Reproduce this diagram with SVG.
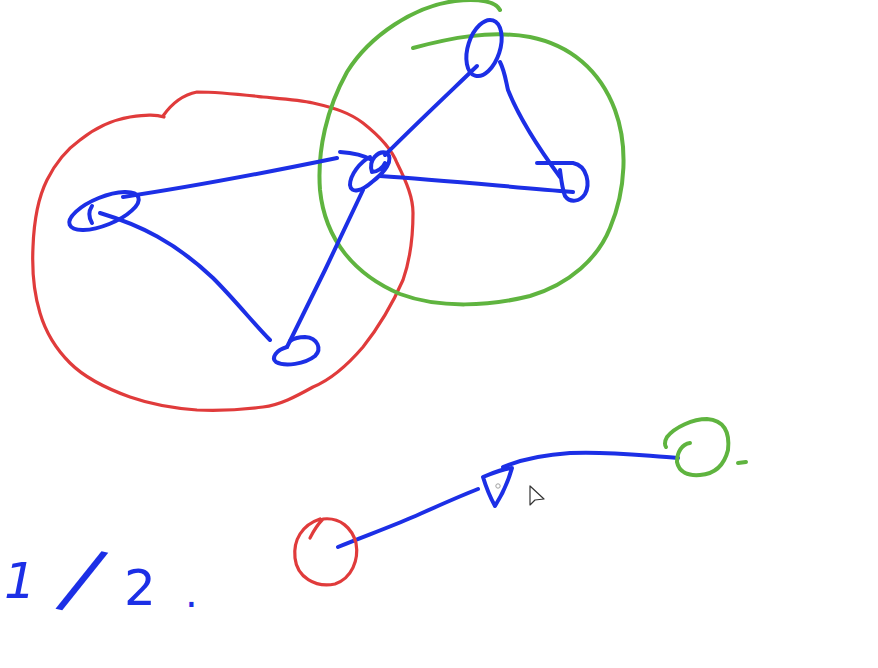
<svg xmlns="http://www.w3.org/2000/svg" width="878" height="668" viewBox="0 0 878 668">
<style>
.b{fill:none;stroke:#1c2fe6;stroke-width:4;stroke-linecap:round;stroke-linejoin:round}
.r{fill:none;stroke:#e03b3b;stroke-width:3.2;stroke-linecap:round;stroke-linejoin:round}
.g{fill:none;stroke:#5fb43f;stroke-width:4;stroke-linecap:round;stroke-linejoin:round}
.t{fill:#1c2fe6;font-family:"DejaVu Sans",sans-serif}
</style>
<rect width="878" height="668" fill="#ffffff"/>
<g id="red-group">
<path class="r" d="M163,116 C172,103 182,95 197,92 C220,92 245,95 263,97 C285,99 300,100 313,103 C335,108 350,113 363,123 C382,138 392,150 397,163 C407,183 413,198 413,213 C413,240 410,260 403,280 C392,305 378,328 363,347 C345,368 330,380 313,387 C295,397 280,405 263,407 C240,410 220,411 197,410 C170,408 150,404 130,397 C105,388 85,378 70,363 C55,348 45,330 40,313 C33,290 32,268 33,247 C34,220 38,198 47,180 C56,162 66,150 80,140 C95,128 112,120 130,117 C145,115 155,114 164,117"/>
</g>
<g id="green-group">
<path class="g" d="M500,10 C496,2 480,-2 455,1 C415,6 370,35 347,72 C327,108 317,150 320,190 C325,240 355,275 400,294 C440,309 490,306 530,296 C570,284 598,258 610,228 C626,190 628,145 615,110 C600,70 570,45 530,37 C490,30 450,38 413,48"/>
</g>
<g id="connectors">
<path class="b" d="M123,197 C170,190 230,180 337,158"/>
<path class="b" d="M100,213 C140,225 175,242 213,278 C235,300 255,325 270,340"/>
<path class="b" d="M287,347 L325,270 L363,190"/>
<path class="b" d="M385,155 C420,120 450,92 477,66"/>
<path class="b" d="M380,176 C440,180 500,186 573,192"/>
<path class="b" d="M500,62 C505,72 506,82 508,90 C520,120 540,150 560,177"/>
<path class="b" d="M338,547 C365,536 390,527 413,517 C440,505 460,496 478,489"/>
<path class="b" d="M503,467 C520,460 540,455 570,453 C610,451 645,456 678,458"/>
</g>
<g id="node-left">
<ellipse class="b" cx="104" cy="211" rx="37" ry="14" transform="rotate(-22 104 211)"/>
<path class="b" d="M92,206 C88,212 89,218 92,223"/>
</g>
<g id="node-bottom">
<path class="b" d="M287,347 C276,350 271,358 276,362 C285,367 305,364 315,356 C322,349 318,338 305,337 C298,337 293,339 290,341"/>
</g>
<g id="node-center">
<path class="b" d="M340,152 C355,153 365,156 372,160"/>
<path class="b" d="M370,157 C360,162 350,175 350,185 C351,194 362,191 372,182 C385,172 394,160 387,153 C378,150 368,160 372,172 C377,172 383,168 385,163"/>
</g>
<g id="node-top">
<ellipse class="b" cx="484" cy="48" rx="16" ry="29" transform="rotate(18 484 48)"/>
</g>
<g id="node-right">
<path class="b" d="M537,163 L573,163 C588,166 590,185 585,194 C580,202 570,203 565,196 C562,188 561,178 560,170"/>
</g>
<g id="node-red-small">
<path class="r" d="M310,538 C314,530 318,524 323,519 C340,517 352,528 356,543 C359,560 352,578 335,584 C315,588 297,577 295,558 C293,540 302,525 320,519"/>
</g>
<g id="node-triangle">
<path class="b" d="M483,477 C495,472 505,468 512,468 C508,482 502,495 495,506 C490,497 486,487 483,477 Z" stroke-width="5"/>
<circle cx="498" cy="486" r="2.2" fill="none" stroke="#a0a0a0" stroke-width="1"/>
</g>
<g id="node-green-small">
<path class="g" d="M690,443 C682,444 677,452 677,462 C679,472 688,476 700,475 C714,474 724,466 728,450 C730,432 724,420 707,419 C693,419 675,427 667,437 C664,442 665,446 666,447"/>
<path class="g" d="M738,463 L746,462" stroke-width="2"/>
</g>
<g id="cursor">
<path d="M530,486 L530,505 L535,500 L544,499 Z" fill="#ffffff" stroke="#333333" stroke-width="1.2" stroke-linejoin="round"/>
</g>
<g id="label">
<text class="t" x="4" y="598" font-size="50" font-style="italic">1</text>
<text class="t" x="68" y="608" font-size="80" font-style="italic" transform="rotate(12 90 580)">/</text>
<text class="t" x="124" y="605" font-size="50">2</text>
<text class="t" x="185" y="607" font-size="40">.</text>
</g>
</svg>
